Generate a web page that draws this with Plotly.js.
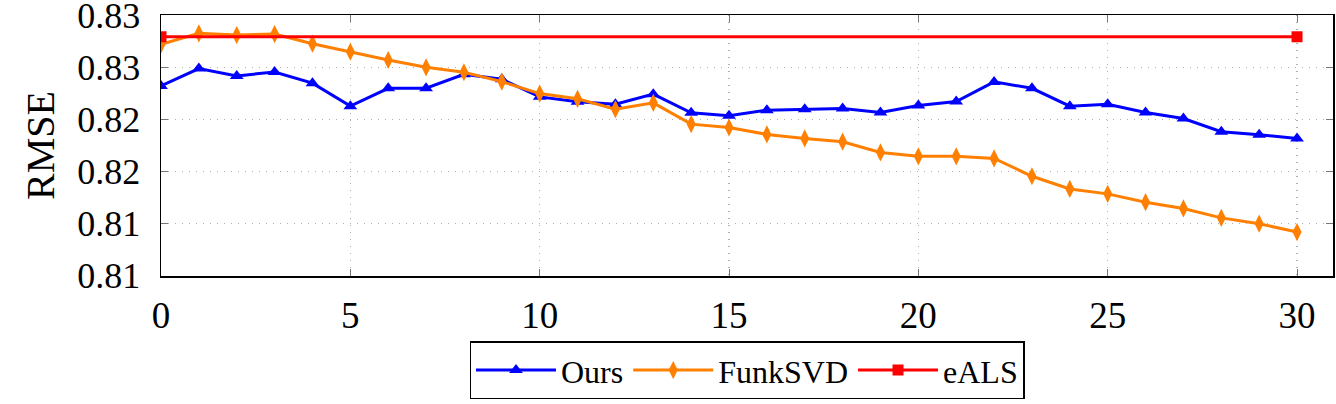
<!DOCTYPE html>
<html>
<head>
<meta charset="utf-8">
<script src="https://cdn.plot.ly/plotly-3.0.1.min.js"></script>
<style>html,body{margin:0;padding:0;background:#fff;}#chart{width:1336px;height:404px;}</style>
</head>
<body>
<div id="chart"></div>
<script>
const epochs = [0,1,2,3,4,5,6,7,8,9,10,11,12,13,14,15,16,17,18,19,20,21,22,23,24,25,26,27,28,29,30];
const ours = [0.82457,0.82590,0.82534,0.82564,0.82478,0.82302,0.82439,0.82439,0.82546,0.82508,
  0.82373,0.82335,0.82317,0.82394,0.82251,0.82228,0.82271,0.82279,0.82284,0.82253,
  0.82307,0.82337,0.82488,0.82439,0.82302,0.82317,0.82253,0.82207,0.82106,0.82083,0.82054];
const funkSVD = [0.82776,0.82860,0.82847,0.82855,0.82781,0.82719,0.82656,0.82600,0.82562,0.82490,
  0.82398,0.82358,0.82279,0.82327,0.82164,0.82138,0.82085,0.82054,0.82029,0.81947,
  0.81917,0.81917,0.81901,0.81764,0.81667,0.81629,0.81565,0.81517,0.81445,0.81400,0.81336];
const ealsX = [0, 30];
const ealsY = [0.82834, 0.82834];
const yTickVals = [0.810,0.814,0.818,0.822,0.826,0.830];
const yTickText = ["0.81","0.81","0.82","0.82","0.83","0.83"];
const xTickVals = [0,5,10,15,20,25,30];

const font = "Liberation Serif, DejaVu Serif, serif";
const traces = [
  {x: epochs, y: ours, name: "Ours", mode: "lines+markers",
   line: {color: "#0000ff", width: 3}, marker: {symbol: "triangle-up", size: 12, color: "#0000ff"}},
  {x: epochs, y: funkSVD, name: "FunkSVD", mode: "lines+markers",
   line: {color: "#ff8000", width: 3}, marker: {symbol: "diamond-tall", size: 13, color: "#ff8000"}},
  {x: ealsX, y: ealsY, name: "eALS", mode: "lines+markers",
   line: {color: "#ff0000", width: 3}, marker: {symbol: "square", size: 11, color: "#ff0000"}}
];
const layout = {
  width: 1336, height: 404,
  margin: {l: 161, r: 3, t: 15, b: 128},
  paper_bgcolor: "#fff", plot_bgcolor: "#fff",
  font: {family: font, color: "#000", size: 36},
  showlegend: true,
  legend: {orientation: "h", x: 0.5, xanchor: "center", y: -0.25, yanchor: "top",
    bordercolor: "#000", borderwidth: 1.5, font: {size: 32, family: font},
    itemwidth: 80},
  xaxis: {range: [0, 30.95], tickvals: xTickVals, ticks: "inside", ticklen: 7, tickcolor: "#777",
    showline: true, linecolor: "#000", linewidth: 1.5, mirror: "ticks",
    showgrid: true, gridcolor: "#b0b0b0", griddash: "1px,6px", gridwidth: 1.2, zeroline: false,
    ticklabelstandoff: 6, tickfont: {size: 37}, ticklabeloverflow: "allow"},
  yaxis: {range: [0.80999, 0.83001], tickvals: yTickVals, ticktext: yTickText, ticks: "inside", ticklen: 7, tickcolor: "#777",
    showline: true, linecolor: "#000", linewidth: 1.5, mirror: "ticks",
    showgrid: true, gridcolor: "#b0b0b0", griddash: "1px,6px", gridwidth: 1.2, zeroline: false,
    ticklabelstandoff: 12, tickfont: {size: 36}, ticklabeloverflow: "allow",
    title: {text: "RMSE", font: {size: 40}, standoff: 10}}
};
Plotly.newPlot("chart", traces, layout, {displayModeBar: false, staticPlot: true});
</script>
</body>
</html>
